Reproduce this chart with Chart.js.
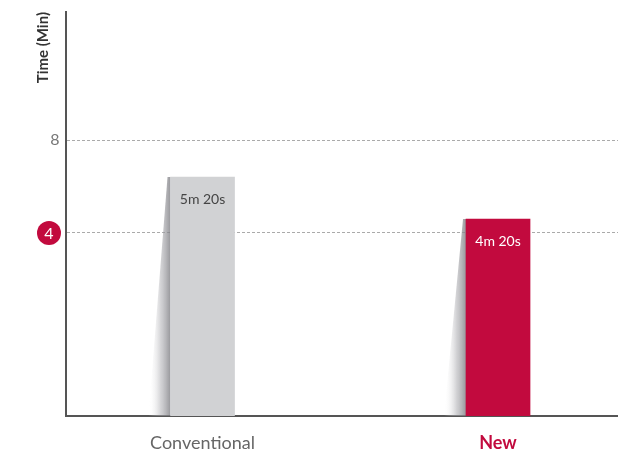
<!DOCTYPE html>
<html>
<head>
<meta charset="utf-8">
<script src="https://cdn.jsdelivr.net/npm/chart.js@4/dist/chart.umd.min.js"></script>
<style>
  html, body { margin: 0; padding: 0; background: #fff; }
  #wrap { width: 618px; height: 455px; }
</style>
</head>
<body>
<div id="wrap"><canvas id="chart"></canvas></div>
<script>
const categories = ['Conventional', 'New'];
const timeSeconds = [320, 260];
const barLabels = ['5m 20s', '4m 20s'];
const yTicks = [4, 8];
const highlightTick = 4;
// the y axis in the picture is not linear: minutes -> share of plot height
const axisBreakValues = [0, 4, 6, 8, 12];
const axisBreakShares = [0, 0.453, 0.661, 0.683, 1];

const GREY = '#d1d2d4';
const RED = '#c20a3e';
const barColors = [GREY, RED];
const barTextColors = ['#444', '#ffffff'];
const FONT = 'Lato, "Open Sans", sans-serif';

const minutes = timeSeconds.map(s => s / 60);

function interp(v, xs, ys) {
    if (v <= xs[0]) return ys[0];
    for (let i = 1; i < xs.length; i++) {
        if (v <= xs[i]) return ys[i - 1] + (v - xs[i - 1]) / (xs[i] - xs[i - 1]) * (ys[i] - ys[i - 1]);
    }
    return ys[ys.length - 1];
}

class BrokenScale extends Chart.LinearScale {
    getPixelForValue(v) { return this.getPixelForDecimal(interp(v, axisBreakValues, axisBreakShares)); }
    getValueForPixel(p) { return interp(this.getDecimalForPixel(p), axisBreakShares, axisBreakValues); }
}
BrokenScale.id = 'broken';
BrokenScale.defaults = Chart.LinearScale.defaults;
Chart.register(BrokenScale);

// slanted soft shadow on the left of each bar
const barShadow = {
    id: 'barShadow',
    beforeDatasetsDraw(chart) {
        const ctx = chart.ctx;
        chart.getDatasetMeta(0).data.forEach(bar => {
            const left = bar.x - bar.width / 2;
            const g = ctx.createLinearGradient(left - 22, 0, left, 0);
            g.addColorStop(0, 'rgba(255,255,255,0)');
            g.addColorStop(0.55, 'rgba(170,170,175,0.5)');
            g.addColorStop(1, 'rgba(125,125,130,0.8)');
            ctx.save();
            ctx.fillStyle = g;
            ctx.beginPath();
            ctx.moveTo(left, bar.y);
            ctx.lineTo(left - 3, bar.y);
            ctx.lineTo(left - 22, bar.base);
            ctx.lineTo(left, bar.base);
            ctx.closePath();
            ctx.fill();
            ctx.restore();
        });
    }
};

// value text inside bars + y tick labels (4 sits in a red dot)
const extraText = {
    id: 'extraText',
    afterDraw(chart) {
        const ctx = chart.ctx;
        ctx.save();
        ctx.textAlign = 'center';
        ctx.textBaseline = 'middle';
        ctx.font = '14px ' + FONT;
        chart.getDatasetMeta(0).data.forEach((bar, i) => {
            ctx.fillStyle = barTextColors[i];
            ctx.fillText(barLabels[i], bar.x, bar.y + 23);
        });
        const y = chart.scales.y;
        ctx.font = '16px ' + FONT;
        yTicks.forEach(t => {
            const py = y.getPixelForValue(t);
            if (t === highlightTick) {
                ctx.fillStyle = RED;
                ctx.beginPath();
                ctx.arc(49, py, 12, 0, Math.PI * 2);
                ctx.fill();
                ctx.fillStyle = '#fff';
                ctx.fillText(String(t), 49, py + 1);
            } else {
                ctx.fillStyle = '#777';
                ctx.fillText(String(t), 55, py);
            }
        });
        ctx.restore();
    }
};

new Chart(document.getElementById('chart'), {
    type: 'bar',
    data: {
        datasets: [{
            data: minutes.map((m, i) => ({ x: i, y: m })),
            backgroundColor: barColors,
            borderWidth: 0,
            barThickness: 64
        }]
    },
    plugins: [barShadow, extraText],
    options: {
        responsive: true,
        maintainAspectRatio: false,
        animation: false,
        layout: { padding: { top: 12, left: 0, right: 0, bottom: 0 } },
        plugins: { legend: { display: false }, tooltip: { enabled: false } },
        scales: {
            x: {
                type: 'linear',
                min: -0.462,
                max: 1.406,
                bounds: 'data',
                offset: false,
                afterBuildTicks: s => { s.ticks = categories.map((_, i) => ({ value: i })); },
                afterFit: s => { s.height = 39; },
                grid: { display: false, drawTicks: false, offset: false },
                border: { color: '#555', width: 2 },
                ticks: {
                    padding: 16,
                    maxRotation: 0,
                    autoSkip: false,
                    callback: v => categories[v],
                    color: c => c.index === 1 ? RED : '#666',
                    font: c => ({ family: FONT, size: 18, weight: c.index === 1 ? 'bold' : 'normal' })
                }
            },
            y: {
                type: 'broken',
                min: 0,
                max: 12,
                afterBuildTicks: s => { s.ticks = yTicks.map(v => ({ value: v })); },
                afterFit: s => { s.width = 66; },
                grid: { color: '#aaa', lineWidth: 1, drawTicks: false },
                border: { color: '#555', width: 2, dash: [3, 2] },
                ticks: { display: false },
                title: {
                    display: true,
                    text: 'Time (Min)',
                    align: 'end',
                    color: '#333',
                    font: { family: FONT, size: 15, weight: 'bold' },
                    padding: { top: 34, bottom: 0 }
                }
            }
        }
    }
});
</script>
</body>
</html>
